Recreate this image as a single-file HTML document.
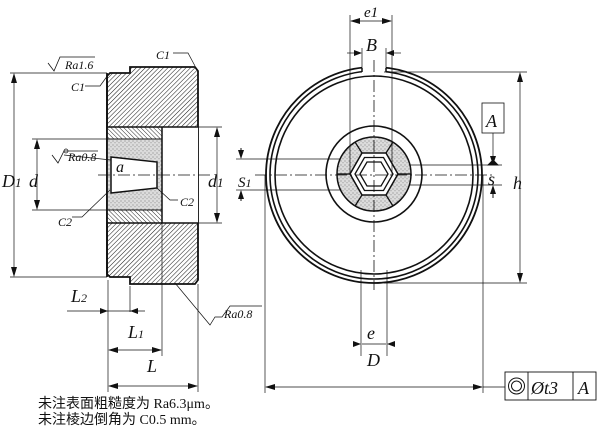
<!DOCTYPE html>
<html><head><meta charset="utf-8"><style>
html,body{margin:0;padding:0;background:#fff;}
svg{display:block;}
text{font-family:"Liberation Serif",serif;font-style:italic;fill:#111;}
</style></head><body>
<svg width="600" height="427" viewBox="0 0 600 427" xmlns="http://www.w3.org/2000/svg">
<defs>
<pattern id="h1" width="3.2" height="3.2" patternUnits="userSpaceOnUse" patternTransform="rotate(45)"><line x1="0" y1="0" x2="0" y2="4" stroke="#111" stroke-width="1"/></pattern>
<pattern id="h2" width="3" height="3" patternUnits="userSpaceOnUse" patternTransform="rotate(-45)"><line x1="0" y1="0" x2="0" y2="4" stroke="#111" stroke-width="0.9"/></pattern>
<pattern id="st" width="4" height="4" patternUnits="userSpaceOnUse"><rect width="4" height="4" fill="#dcdcdc"/><circle cx="1" cy="1" r="0.5" fill="#555"/><circle cx="3" cy="2.8" r="0.5" fill="#777"/></pattern>
</defs>
<g stroke="#111" fill="none" stroke-width="1">
<path d="M110,73 L130,73 L130,67 L195,67 L198,71 L198,280 L195,284 L130,284 L130,277 L110,277 L107,274 L107,76 Z" fill="url(#h1)" stroke-width="1.8"/>
<rect x="107" y="127" width="91" height="96" fill="#fff" stroke="none"/>
<rect x="107" y="127" width="55" height="12" fill="url(#h2)"/>
<rect x="107" y="210" width="55" height="13" fill="url(#h2)"/>
<rect x="107" y="139" width="55" height="71" fill="url(#st)"/>
<path d="M111,157 L157,162 L157,188 L111,193 Z" fill="#fff" stroke-width="1.5"/>
<line x1="107" y1="127" x2="198" y2="127" stroke-width="1.5"/>
<line x1="107" y1="223" x2="198" y2="223" stroke-width="1.5"/>
<line x1="162" y1="127" x2="162" y2="223" stroke-width="1.5"/>
<line x1="107" y1="139" x2="162" y2="139" stroke-width="1"/>
<line x1="107" y1="210" x2="162" y2="210" stroke-width="1"/>
<line x1="107" y1="73" x2="107" y2="277" stroke-width="1.8"/>
<line x1="98" y1="175" x2="210" y2="175" stroke-dasharray="12,3,2,3" stroke-width="0.8"/>
<line x1="10" y1="73" x2="107" y2="73" stroke-width="0.7"/>
<line x1="10" y1="277" x2="107" y2="277" stroke-width="0.7"/>
<line x1="14" y1="76" x2="14" y2="274" stroke-width="0.7"/>
<line x1="32" y1="139" x2="107" y2="139" stroke-width="0.7"/>
<line x1="32" y1="210" x2="107" y2="210" stroke-width="0.7"/>
<line x1="37" y1="142" x2="37" y2="207" stroke-width="0.7"/>
<line x1="198" y1="127" x2="222" y2="127" stroke-width="0.7"/>
<line x1="198" y1="223" x2="222" y2="223" stroke-width="0.7"/>
<line x1="217" y1="130" x2="217" y2="220" stroke-width="0.7"/>
<line x1="236" y1="159" x2="250" y2="159" stroke-width="0.7"/>
<line x1="236" y1="190" x2="250" y2="190" stroke-width="0.7"/>
<line x1="241" y1="148" x2="241" y2="158"/><line x1="241" y1="191" x2="241" y2="201"/>
<path d="M48,63 L54,71 L60,57 L95,57" stroke-width="0.8"/>
<path d="M52,155 L58,163 L64,151 L98,151" stroke-width="0.8"/><circle cx="66" cy="151" r="2" stroke-width="0.7"/>
<path d="M64,155 L111,160" stroke-width="0.7"/>
<path d="M173,53 L188,53 L195,66" stroke-width="0.7"/>
<path d="M85,86 L100,86 L108,75" stroke-width="0.7"/>
<path d="M72,217 L82,217 L110,190" stroke-width="0.7"/>
<path d="M157,188 L170,200 L178,200" stroke-width="0.7"/>
<line x1="108" y1="280" x2="108" y2="392" stroke-width="0.7"/>
<line x1="130" y1="286" x2="130" y2="312" stroke-width="0.7"/>
<line x1="162" y1="223" x2="162" y2="356" stroke-width="0.7"/>
<line x1="198" y1="284" x2="198" y2="392" stroke-width="0.7"/>
<line x1="67" y1="311" x2="145" y2="311" stroke-width="0.7"/>
<line x1="109" y1="350" x2="161" y2="350" stroke-width="0.7"/>
<line x1="109" y1="386" x2="197" y2="386" stroke-width="0.7"/>
<path d="M175,283 L210,325 L215,317 L222,317 L230,306 L262,306" stroke-width="0.7"/>
<circle cx="374" cy="175" r="108" stroke-width="1.8"/>
<circle cx="374" cy="175" r="104" stroke-width="1.6"/>
<circle cx="374" cy="175" r="99" stroke-width="1.6"/>
<rect x="362" y="64" width="24" height="10" fill="#fff" stroke="none"/>
<line x1="362" y1="68" x2="362" y2="72" stroke-width="1.5"/><line x1="386" y1="68" x2="386" y2="72" stroke-width="1.5"/>
<circle cx="374" cy="174" r="48" stroke-width="1.6"/>
<circle cx="374" cy="174" r="37" fill="url(#st)" stroke-width="1.5"/>
<polygon points="350,174 362,153 386,153 398,174 386,195 362,195" fill="#fff" stroke-width="1.5"/>
<polygon points="355,174 364.5,157.5 383.5,157.5 393,174 383.5,190.5 364.5,190.5" stroke-width="1.3"/>
<polygon points="360,174 367,162 381,162 388,174 381,186 367,186" stroke-width="1.3"/>
<g stroke-width="1.3"><line x1="362" y1="153" x2="355" y2="142"/><line x1="386" y1="153" x2="393" y2="142"/><line x1="362" y1="195" x2="355" y2="206"/><line x1="386" y1="195" x2="393" y2="206"/><line x1="350" y1="174" x2="337" y2="174"/><line x1="398" y1="174" x2="411" y2="174"/></g>
<line x1="255" y1="175" x2="495" y2="175" stroke-dasharray="12,3,2,3" stroke-width="0.8"/>
<line x1="374" y1="60" x2="374" y2="290" stroke-dasharray="12,3,2,3" stroke-width="0.8"/>
<line x1="350" y1="15" x2="350" y2="175" stroke-width="0.7"/><line x1="392" y1="15" x2="392" y2="175" stroke-width="0.7"/>
<line x1="351" y1="21" x2="391" y2="21" stroke-width="0.7"/>
<line x1="347" y1="53" x2="361" y2="53" stroke-width="0.7"/><line x1="387" y1="53" x2="401" y2="53" stroke-width="0.7"/>
<line x1="362" y1="48" x2="362" y2="68" stroke-width="0.7"/><line x1="386" y1="48" x2="386" y2="68" stroke-width="0.7"/>
<line x1="250" y1="159" x2="340" y2="159" stroke-width="0.7"/><line x1="250" y1="190" x2="340" y2="190" stroke-width="0.7"/>
<line x1="410" y1="165" x2="502" y2="165" stroke-width="0.7"/><line x1="410" y1="185" x2="502" y2="185" stroke-width="0.7"/>
<line x1="493" y1="188" x2="493" y2="198"/>
<rect x="482" y="103" width="22" height="30" stroke-width="0.8"/>
<line x1="493" y1="133" x2="493" y2="163" stroke-width="0.7"/>
<polygon points="488,165 498,165 493,160" fill="#111"/>
<line x1="384" y1="72" x2="527" y2="72" stroke-width="0.7"/><line x1="384" y1="283" x2="527" y2="283" stroke-width="0.7"/>
<line x1="520" y1="75" x2="520" y2="280" stroke-width="0.7"/>
<line x1="265" y1="175" x2="265" y2="393" stroke-width="0.7"/><line x1="483" y1="175" x2="483" y2="393" stroke-width="0.7"/>
<line x1="266" y1="387" x2="482" y2="387" stroke-width="0.7"/><line x1="483" y1="387" x2="505" y2="387" stroke-width="0.7"/>
<line x1="361" y1="270" x2="361" y2="356" stroke-width="0.7"/><line x1="387" y1="270" x2="387" y2="356" stroke-width="0.7"/>
<line x1="362" y1="344" x2="386" y2="344" stroke-width="0.7"/>
<rect x="505" y="372" width="91" height="28" stroke-width="0.9"/>
<line x1="528" y1="372" x2="528" y2="400" stroke-width="0.9"/><line x1="573" y1="372" x2="573" y2="400" stroke-width="0.9"/>
<circle cx="516.5" cy="386" r="8"/><circle cx="516.5" cy="386" r="5"/>
</g>
<g fill="#111">
<polygon points="14,73 11,83 17,83"/><polygon points="14,277 11,267 17,267"/>
<polygon points="37,139 34,149 40,149"/><polygon points="37,210 34,200 40,200"/>
<polygon points="217,127 214,137 220,137"/><polygon points="217,223 214,213 220,213"/>
<polygon points="241,159 238,150 244,150"/><polygon points="241,190 238,199 244,199"/>
<polygon points="108,350 118,347 118,353"/><polygon points="162,350 152,347 152,353"/>
<polygon points="108,386 118,383 118,389"/><polygon points="198,386 188,383 188,389"/>
<polygon points="108,311 100,308 100,314"/><polygon points="130,311 138,308 138,314"/>
<polygon points="350,21 360,18 360,24"/><polygon points="392,21 382,18 382,24"/>
<polygon points="362,53 354,50 354,56"/><polygon points="386,53 394,50 394,56"/>
<polygon points="520,72 517,82 523,82"/><polygon points="520,283 517,273 523,273"/>
<polygon points="265,387 275,384 275,390"/><polygon points="483,387 473,384 473,390"/>
<polygon points="361,344 353,341 353,347"/><polygon points="387,344 395,341 395,347"/>
<polygon points="493,165 490,156 496,156"/><polygon points="493,185 490,194 496,194"/>
</g>
<g font-size="18">
<text x="2" y="187">D<tspan font-size="13">1</tspan></text>
<text x="29" y="187">d</text>
<text x="208" y="187">d<tspan font-size="13">1</tspan></text>
<text x="238" y="187" font-size="15">S<tspan font-size="12">1</tspan></text>
<text x="116" y="172" font-size="16">a</text>
<text x="71" y="302">L<tspan font-size="12">2</tspan></text>
<text x="128" y="338">L<tspan font-size="12">1</tspan></text>
<text x="147" y="372">L</text>
<text x="364" y="17" font-size="15">e1</text>
<text x="366" y="51">B</text>
<text x="486" y="127">A</text>
<text x="488" y="185">s</text>
<text x="513" y="189">h</text>
<text x="367" y="339">e</text>
<text x="367" y="366">D</text>
<text x="531" y="394" font-size="18">Øt3</text>
<text x="578" y="394">A</text>
</g>
<g font-size="12">
<text x="65" y="69">Ra1.6</text>
<text x="68" y="161">Ra0.8</text>
<text x="224" y="318">Ra0.8</text>
<text x="156" y="59">C1</text>
<text x="71" y="91">C1</text>
<text x="58" y="226">C2</text>
<text x="180" y="206">C2</text>
</g>
<g font-family="'Liberation Serif','Noto Serif CJK SC',serif" font-size="14" fill="#111">
<text x="38" y="408" style="font-style:normal">未注表面粗糙度为 Ra6.3μm。</text>
<text x="38" y="424" style="font-style:normal">未注棱边倒角为 C0.5 mm。</text>
</g>
</svg>
</body></html>
